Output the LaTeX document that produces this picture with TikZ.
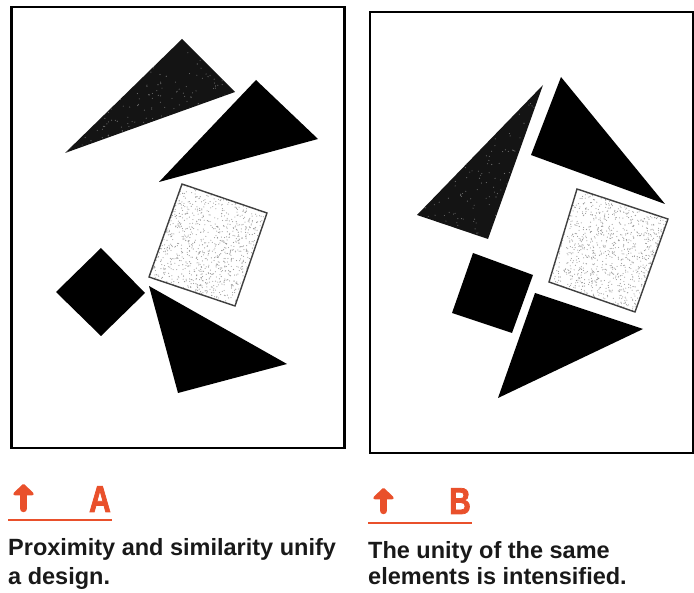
\documentclass[tikz,border=0pt]{standalone}
\usepackage{fontspec}
\setmainfont{Liberation Sans}
\newfontfamily\letterfont{Liberation Sans Bold}[FakeStretch=0.8, FakeBold=2]
\usetikzlibrary{arrows.meta,calc}
\definecolor{signred}{RGB}{233,80,43}

\begin{document}
\begin{tikzpicture}[
  x=1pt, y=-1pt,
  frame/.style={draw=black, line width=2.4pt},
  solid piece/.style={fill=black},
  speckle/.style n args={2}{path picture={
    \foreach \k in {1,...,#1}
      \fill[#2] let \p1=(path picture bounding box.south west),
                    \p2=(path picture bounding box.north east) in
        ({\x1+rnd*(\x2-\x1)},{\y1+rnd*(\y2-\y1)}) circle (0.55);}},
  dark piece/.style={fill=black!92, speckle={260}{black!55}},
  light piece/.style={fill=white, speckle={1400}{black!40}, draw=black!75, line width=1.4pt},
  upmark/.style={draw=signred, line width=7.5pt, line cap=round,
    -{Triangle[width=24pt, length=12pt, round]}},
  letter/.style={text=signred, font=\fontsize{37.5}{37.5}\letterfont,
    inner sep=0pt, anchor=base east},
  rule/.style={draw=signred, line width=2pt},
  caption/.style={text=black!90, align=left, inner sep=0pt, anchor=base west}
]
  \pgfmathsetseed{11}
  \useasboundingbox (0,0) rectangle (694,593);

  % panel A
  \draw[frame] (11.5,7) rectangle (344.5,448);
  \path[dark piece] (182,39) -- (235,92) -- (65,153) -- cycle;
  \path[solid piece] (256,80) -- (318,139) -- (159,182) -- cycle;
  \path[light piece] (182,184) -- (267,213) -- (235,306) -- (149,277) -- cycle;
  \path[solid piece] (101,248) -- (145,293) -- (101,336) -- (56,292) -- cycle;
  \path[solid piece] (149,286) -- (287,364) -- (178,393) -- cycle;

  % panel B
  \draw[frame, line width=2pt] (370,12) rectangle (692.5,453.5);
  \path[dark piece] (543,85) -- (488,239) -- (417,215) -- cycle;
  \path[solid piece] (561,77) -- (665,204) -- (531,155) -- cycle;
  \path[light piece] (577,189) -- (668,219) -- (635,312) -- (549,282) -- cycle;
  \path[solid piece] (473,253) -- (533,275) -- (512,333) -- (452,313) -- cycle;
  \path[solid piece] (535,293) -- (643,329) -- (498,398) -- cycle;

  % captions
  \draw[upmark] (23.5,508.5) -- (23.5,484);
  \draw[rule] (8,520) -- (112,520);
  \node[caption, font=\fontsize{23.5}{29}\selectfont\bfseries] (captionA) at (8,584)
    {Proximity and similarity unify\\a design.};

  \draw[upmark] (383.5,510.5) -- (383.5,488);
  \draw[rule] (368,523) -- (472,523);
  \node[caption, font=\fontsize{23.5}{26}\selectfont\bfseries] (captionB) at (368,584)
    {The unity of the same\\elements is intensified.};

  % letters last (fake bold)
  \node[letter] (letterA) at (111,512) {A};
  \node[letter] (letterB) at (471,514) {B};
\end{tikzpicture}
\end{document}
